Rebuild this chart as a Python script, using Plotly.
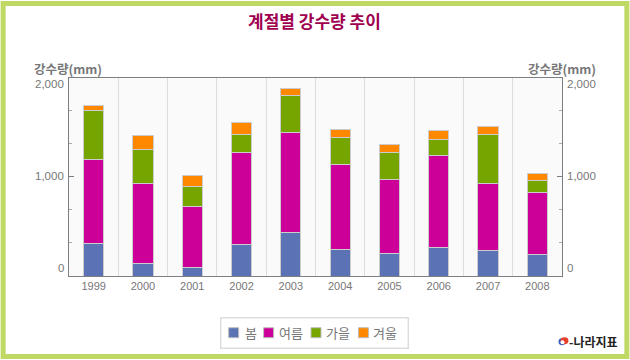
import plotly.graph_objects as go

years = ["1999","2000","2001","2002","2003","2004","2005","2006","2007","2008"]
spring = [331,130,90,321,441,271,231,291,261,221]
summer = [843,803,609,923,1004,853,742,923,672,622]
autumn = [488,341,204,181,371,271,271,161,492,120]
winter = [50,141,110,120,70,77,80,90,80,70]
series = [("봄",spring,"#5b73b5"),("여름",summer,"#cc0099"),("가을",autumn,"#77a500"),("겨울",winter,"#ff8800")]
legend_swatch_left = [228.5,263.5,311,358.5]
legend_text_center = [250.5,291.3,338.3,385.2]

W,H = 630,360
L,R,T,B = 68.5,562.5,77.5,276.5
def px(x): return (x-L)/(R-L)
def py(y): return (B-y)/(B-T)

KR = "Noto Sans CJK KR"
GRAY = "#777777"
AX = "#7a7f85"

fig = go.Figure()
for name,vals,col in series:
    fig.add_bar(x=years,y=vals,name=name,width=0.41,showlegend=False,
                marker=dict(color=col,line=dict(color="#cccccc",width=1)))

def rect(x0,x1,y0,y1,fill,line,lw,shape="rect",layer="above"):
    return dict(type=shape,xref="paper",yref="paper",x0=px(x0),x1=px(x1),y0=py(y0),y1=py(y1),
                fillcolor=fill,line=dict(color=line,width=lw),layer=layer)

shapes = [rect(2.5,627.5,2.5,357.5,"rgba(0,0,0,0)","#bfd964",5,layer="below")]
shapes += [
    rect(559,566,346,339,"#3a5fc0","#3a5fc0",0,"circle"),
    rect(561,569,345,338,"#e8402a","#e8402a",0,"circle"),
    rect(561,565,345,341,"#ffffff","#ffffff",0,"circle"),
    rect(220.5,408.5,318.5,349,"rgba(0,0,0,0)","#dddddd",1.5),
]

def text(x,y,s,size=12,color=GRAY,anchor="center",family=KR):
    return dict(xref="paper",yref="paper",x=px(x),y=py(y),text=s,showarrow=False,xanchor=anchor,yanchor="middle",
                font=dict(family=family,size=size,color=color))

ann = [
    text(314.5,20,"<b>계절별 강수량 추이</b>",17,"#a00050"),
    text(67.5,68,"<b>강수량(mm)</b>",12.5),
    text(562.5,68,"<b>강수량(mm)</b>",12.5),
    text(65,84,"2,000",11.5,anchor="right",family="Liberation Sans"),
    text(65,176,"1,000",11.5,anchor="right",family="Liberation Sans"),
    text(65,268,"0",11.5,anchor="right",family="Liberation Sans"),
    text(566,84,"2,000",11.5,anchor="left",family="Liberation Sans"),
    text(566,176,"1,000",11.5,anchor="left",family="Liberation Sans"),
    text(566,268,"0",11.5,anchor="left",family="Liberation Sans"),
    text(594.5,342,"<b>-나라지표</b>",12,"#222222"),
]
for (name,vals,col),sx,tx in zip(series,legend_swatch_left,legend_text_center):
    shapes.append(rect(sx,sx+10,328.5,338.5,col,"#bbbbbb",1))
    ann.append(text(tx,333,name,13))

fig.update_layout(
    width=W,height=H,margin=dict(l=L,r=W-R,t=T,b=H-B,pad=0,autoexpand=False),autosize=False,
    paper_bgcolor="white",plot_bgcolor="#fafafa",barmode="stack",bargap=0.59,showlegend=False,
    shapes=shapes,annotations=ann,
    xaxis=dict(type="category",tickson="boundaries",showgrid=True,gridcolor="#dddddd",gridwidth=1,
               ticks="",showline=True,linecolor=AX,linewidth=1,mirror=True,
               tickfont=dict(family="Liberation Sans",size=11,color=GRAY),ticklen=0),
    yaxis=dict(range=[0,1992],tickvals=[0,1000],ticks="inside",ticklen=5,tickcolor=AX,tickwidth=1,
               showgrid=False,zeroline=False,showticklabels=False,showline=True,linecolor=AX,linewidth=1,mirror="ticks",
               minor=dict(tickvals=[333,667,1333,1667],ticks="inside",ticklen=3,tickcolor="#aaaaaa",tickwidth=1,showgrid=False)),
)
fig.write_html("out.html",post_script="document.body.style.margin='0';document.body.style.overflow='hidden';",config={"displayModeBar":False})
